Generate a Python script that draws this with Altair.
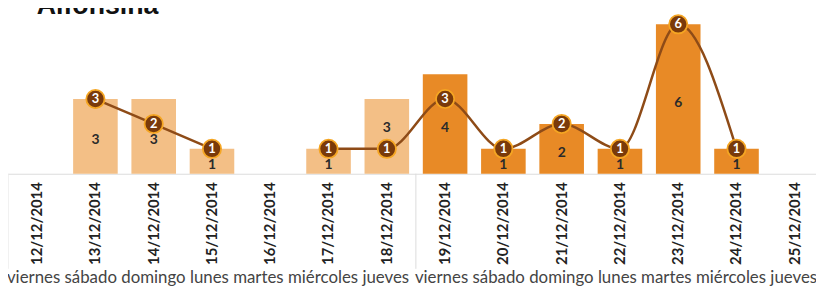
import altair as alt
import pandas as pd

title_text = "Alfonsina"
dates = ["12/12/2014", "13/12/2014", "14/12/2014", "15/12/2014", "16/12/2014",
         "17/12/2014", "18/12/2014", "19/12/2014", "20/12/2014", "21/12/2014",
         "22/12/2014", "23/12/2014", "24/12/2014", "25/12/2014"]
weekdays = ["viernes", "sábado", "domingo", "lunes", "martes", "miércoles", "jueves",
            "viernes", "sábado", "domingo", "lunes", "martes", "miércoles", "jueves"]
bar_values = [0, 3, 3, 1, 0, 1, 3, 4, 1, 2, 1, 6, 1, 0]
line_values = [None, 3, 2, 1, None, 1, 1, 3, 1, 2, 1, 6, 1, None]
week = ["semana 1"] * 7 + ["semana 2"] * 7
separators = ["12/12/2014", "19/12/2014"]

# segment ids so the line breaks where there is no value
segments = []
seg = 0
prev_none = True
for v in line_values:
    if v is None:
        prev_none = True
        segments.append(None)
    else:
        if prev_none:
            seg += 1
        prev_none = False
        segments.append(seg)

# bar label anchor: middle of the bar, moved up if a line marker sits just below it
label_anchor = []
for b, l in zip(bar_values, line_values):
    mid = b / 2
    if l is not None and 0 < mid - l <= 0.6:
        mid = (b + l) / 2
    label_anchor.append(mid)

df = pd.DataFrame({"date": dates, "weekday": weekdays, "bars": bar_values,
                   "week": week, "anchor": label_anchor})
bars_df = df[df["bars"] > 0]
line_df = pd.DataFrame({"date": dates, "value": line_values, "segment": segments}).dropna()
sep_df = pd.DataFrame({"date": separators})
title_df = pd.DataFrame({"t": [title_text]})
# one running line of weekday names per week, centred under that week
week_text_df = pd.DataFrame({
    "date": [dates[3], dates[10]],
    "text": [" ".join(weekdays[:7]), " ".join(weekdays[7:])],
})

H = 166
xscale = alt.Scale(domain=dates, range=[0, 824], paddingInner=0.235, paddingOuter=0.1175)
yscale = alt.Scale(domain=[0, 6.6], nice=False, zero=True)

x_axis = alt.Axis(title=None, labelAngle=270, labelFont="Lato", labelFontWeight="bold",
                  labelFontSize=15, labelColor="#222222", ticks=False, domainColor="#dddddd",
                  domainWidth=1, labelPadding=8, grid=False, labelBaseline="middle",
                  labelAlign="right")

X = alt.X("date:N", sort=dates, scale=xscale, axis=x_axis)

bars = alt.Chart(bars_df).mark_bar().encode(
    x=X,
    y=alt.Y("bars:Q", scale=yscale, axis=None),
    color=alt.Color("week:N", scale=alt.Scale(domain=["semana 1", "semana 2"],
                                              range=["#F3BF86", "#E88A26"]), legend=None),
)

bar_labels = alt.Chart(bars_df).mark_text(font="Lato", fontSize=14, fontWeight="bold",
                                          color="#2a2a2a", baseline="middle", dy=4).encode(
    x=X, y=alt.Y("anchor:Q", scale=yscale, axis=None), text="bars:Q")

line = alt.Chart(line_df).mark_line(interpolate="monotone", color="#8E4B17", strokeWidth=2.5).encode(
    x=X, y=alt.Y("value:Q", scale=yscale, axis=None), detail="segment:N")

points = alt.Chart(line_df).mark_point(shape="circle", filled=True, size=340, fill="#7A3A0A",
                                       stroke="#F5A623", strokeWidth=1.8, opacity=1).encode(
    x=X, y=alt.Y("value:Q", scale=yscale, axis=None))

point_labels = alt.Chart(line_df).mark_text(font="Lato", fontSize=13, fontWeight="bold",
                                            color="white", baseline="middle").encode(
    x=X, y=alt.Y("value:Q", scale=yscale, axis=None), text=alt.Text("value:Q", format="d"))

seps = alt.Chart(sep_df).mark_rule(color="#dcdcdc", strokeWidth=1, xOffset=-7).encode(
    x=alt.X("date:N", sort=dates, scale=xscale, axis=x_axis, bandPosition=0),
    y=alt.value(H), y2=alt.value(262))

week_labels = alt.Chart(week_text_df).mark_text(font="Lato", fontSize=17, color="#444444",
                                                baseline="alphabetic", align="center",
                                                xOffset=-4).encode(
    x=X, y=alt.value(276), text="text:N")

title = alt.Chart(title_df).mark_text(font="Liberation Sans", fontSize=27, fontWeight="bold",
                                      color="#111111", align="left", baseline="alphabetic").encode(
    x=alt.value(29), y=alt.value(5), text="t:N")

chart = alt.layer(bars, bar_labels, seps, line, points, point_labels, week_labels, title).properties(
    width=816, height=H,
    autosize=alt.AutoSizeParams(type="none"),
    padding={"left": 0, "top": 0, "right": 0, "bottom": 114},
).configure_view(stroke=None)

chart.save("out.html", embed_options={"renderer": "svg", "actions": False})
